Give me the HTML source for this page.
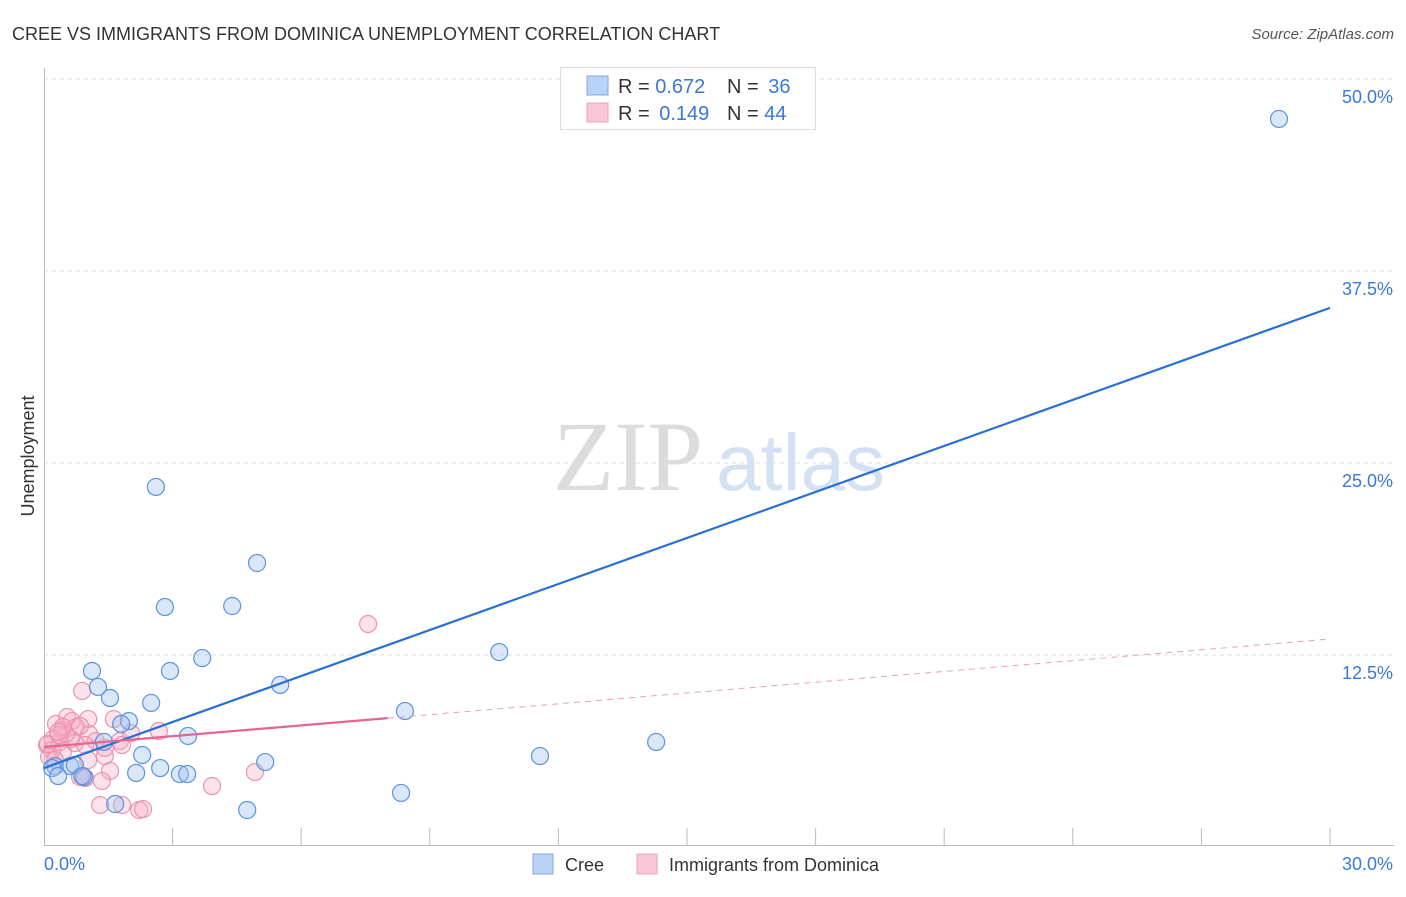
<!DOCTYPE html>
<html><head><meta charset="utf-8"><style>
body{margin:0;background:#fff;font-family:"Liberation Sans",sans-serif;}
svg text{font-family:"Liberation Sans",sans-serif;}
</style></head><body>
<svg id="chart" width="1406" height="892" xmlns="http://www.w3.org/2000/svg">
<text x="12" y="40" font-size="18" fill="#333">CREE VS IMMIGRANTS FROM DOMINICA UNEMPLOYMENT CORRELATION CHART</text>
<text x="1394" y="39" font-size="15" fill="#555" font-style="italic" text-anchor="end">Source: ZipAtlas.com</text>
<text transform="translate(34,456) rotate(-90)" font-size="18" fill="#333" text-anchor="middle">Unemployment</text>
<g>
<text x="553" y="490" font-size="100" fill="#dcdcdc" style="font-family:'Liberation Serif',serif">ZIP</text>
<text x="716" y="490" font-size="80" fill="#d4e1f3">atlas</text>
</g>
<g id="grid"></g><g id="axes"></g><g id="pts"></g><g id="lines"></g>
<g>
<rect x="560.5" y="67.5" width="255" height="62" fill="#fff" stroke="#ddd"/>
<rect x="587" y="76" width="21" height="19" fill="#b8d3f5" stroke="#7ea8e0"/>
<rect x="587" y="103" width="21" height="19" fill="#f8c8d8" stroke="#eea0bb"/>
<text x="618" y="93" font-size="20" fill="#333">R = <tspan fill="#3b78d8">0.672</tspan></text>
<text x="727" y="93" font-size="20" fill="#333">N = <tspan fill="#3b78d8" dx="4">36</tspan></text>
<text x="618" y="120" font-size="20" fill="#333">R = <tspan fill="#3b78d8" dx="4">0.149</tspan></text>
<text x="727" y="120" font-size="20" fill="#333">N = <tspan fill="#3b78d8">44</tspan></text>
</g>
<g>
<rect x="533" y="854" width="20" height="20" fill="#b8d3f5" stroke="#7ea8e0"/>
<text x="565" y="871" font-size="18" fill="#333">Cree</text>
<rect x="637" y="854" width="20" height="20" fill="#f8c8d8" stroke="#eea0bb"/>
<text x="669" y="871" font-size="18" fill="#333">Immigrants from Dominica</text>
</g>
</svg>
<script>
const yTicks=[12.5,25,37.5,50];
const yTickLabels=["12.5%","25.0%","37.5%","50.0%"];
const xTickCount=10;
const creeX=[28.81,2.61,4.97,2.82,4.39,10.62,3.69,2.94,1.12,1.26,5.51,1.54,2.50,8.42,1.98,1.80,3.36,1.40,14.28,2.29,11.57,5.16,0.26,0.19,0.61,0.72,2.71,0.33,2.15,3.17,3.34,0.93,0.89,8.33,1.66,4.74];
const creeY=[47.40,23.44,18.49,15.62,15.69,12.69,12.30,11.46,11.46,10.42,10.55,9.70,9.38,8.85,8.20,8.01,7.23,6.84,6.84,5.99,5.92,5.53,5.27,5.14,5.27,5.34,5.14,4.62,4.82,4.75,4.75,4.56,4.62,3.52,2.80,2.41];
const domX=[7.56,0.89,1.03,0.54,0.28,0.65,0.75,0.42,1.05,2.68,2.03,1.77,1.63,0.21,0.07,0.19,0.44,0.72,0.12,1.03,1.42,1.54,0.84,0.96,1.35,1.31,1.82,2.22,2.31,3.92,4.92,1.82,0.63,0.37,0.26,0.09,0.51,1.21,0.84,0.44,0.35,1.42,0.96,0.33];
const domY=[14.52,10.16,8.33,8.46,8.01,8.20,7.81,7.62,7.36,7.55,7.42,6.90,8.33,7.03,6.64,6.31,6.18,6.77,5.86,5.66,5.92,4.95,4.56,4.49,4.30,2.73,2.73,2.41,2.47,3.97,4.88,6.64,7.03,6.84,5.66,6.71,7.36,6.90,7.88,7.81,7.29,6.45,6.64,7.49];
const creeTrend=[5.14,35.1];
const domTrend=[6.51,13.54];
const domSolidEnd=8.02;
const NS="http://www.w3.org/2000/svg";
const X=v=>44+v/30*1286;
const Y=v=>847-v/12.5*192;
function mk(tag,attrs,parent){const e=document.createElementNS(NS,tag);for(const k in attrs)e.setAttribute(k,attrs[k]);parent.appendChild(e);return e;}
const grid=document.getElementById('grid'),axes=document.getElementById('axes'),pts=document.getElementById('pts'),lines=document.getElementById('lines');
yTicks.forEach((t,i)=>{
 const l=mk('line',{x1:44,x2:1394,y1:Y(t),y2:Y(t),stroke:'#ddd','stroke-dasharray':'4,4'},grid);
 
 
 const tx=mk('text',{x:1393,y:Y(t)+24,'font-size':18,fill:'#3b78d8','text-anchor':'end'},axes);
 tx.textContent=yTickLabels[i];
 
 
});
const ya=mk('line',{x1:44.5,x2:44.5,y1:68,y2:846,stroke:'#bbb'},axes);


const xa=mk('line',{x1:44,x2:1394,y1:845.5,y2:845.5,stroke:'#bbb'},axes);


for(let i=1;i<=xTickCount;i++){
 const t=mk('line',{x1:X(i*3),x2:X(i*3),y1:828,y2:846,stroke:'#bbb'},axes);
 
 
}
const x0=mk('text',{x:44,y:870,'font-size':18,fill:'#3b78d8'},axes);x0.textContent='0.0%';


const x1=mk('text',{x:1393,y:870,'font-size':18,fill:'#3b78d8','text-anchor':'end'},axes);x1.textContent='30.0%';


domX.forEach((v,i)=>{
 const c=mk('circle',{cx:X(v),cy:Y(domY[i]),r:8.5,fill:'rgba(246,172,198,0.35)',stroke:'#eb93b2','stroke-width':1.2},pts);
 
 
});
creeX.forEach((v,i)=>{
 const c=mk('circle',{cx:X(v),cy:Y(creeY[i]),r:8.5,fill:'rgba(160,196,240,0.4)',stroke:'#5d92dc','stroke-width':1.2},pts);
 
 
});
const dy=x=>domTrend[0]+(domTrend[1]-domTrend[0])*x/30;
const l1=mk('line',{x1:X(0),y1:Y(creeTrend[0]),x2:X(30),y2:Y(creeTrend[1]),stroke:'#2a6fd6','stroke-width':2.2},lines);


const l2=mk('line',{x1:X(0),y1:Y(dy(0)),x2:X(domSolidEnd),y2:Y(dy(domSolidEnd)),stroke:'#e8638e','stroke-width':2.2},lines);


const l3=mk('line',{x1:X(domSolidEnd),y1:Y(dy(domSolidEnd)),x2:X(30),y2:Y(dy(30)),stroke:'#e8a0b8','stroke-width':1,'stroke-dasharray':'6,5'},lines);


</script>
</body></html>
